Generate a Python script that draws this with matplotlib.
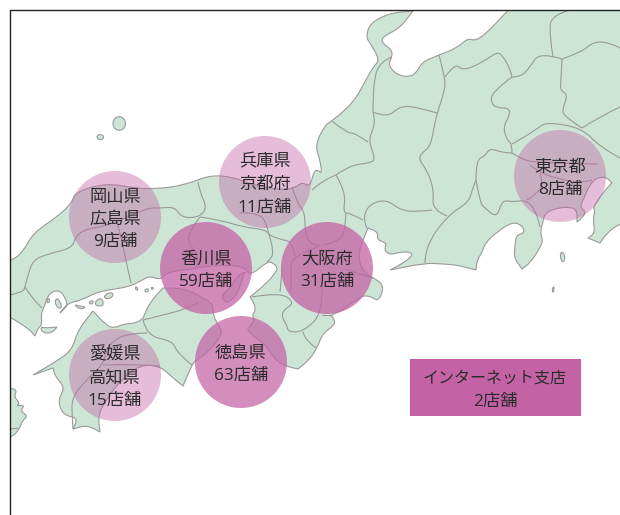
import matplotlib
matplotlib.use('Agg')
import matplotlib.pyplot as plt
from matplotlib.patches import Circle, Rectangle, PathPatch
from matplotlib.path import Path

plt.rcParams['font.family'] = ['Open Sans', 'Noto Sans CJK JP', 'DejaVu Sans']

# store groups
storeLabels = ['岡山県\n広島県\n9店舗', '香川県\n59店舗', '兵庫県\n京都府\n11店舗', '大阪府\n31店舗',
               '東京都\n8店舗', '愛媛県\n高知県\n15店舗', '徳島県\n63店舗']
storeX = [115, 206, 265, 327, 560, 115, 241]
storeY = [217, 268, 182, 268, 176, 375, 362]
storeAlpha = [0.42, 0.75, 0.42, 0.75, 0.42, 0.42, 0.72]
onlineName = 'インターネット支店'
onlineCount = '2店舗'

# map outlines (a point given twice stays a sharp cape)
honshu = [(-20, 262), (10, 262), (23, 252), (33, 233), (57, 217), (72, 203), (75, 192), (107, 183), (133, 188),
          (157, 189), (185, 185), (210, 175), (233, 177), (253, 185), (280, 190), (295, 188), (302, 182), (310, 187),
          (314, 171), (318, 170), (322, 174), (320, 160), (315, 145), (325, 125), (332, 121), (353, 103), (365, 82),
          (373, 67), (380, 60), (370, 43), (366, 37), (370, 23), (390, 13), (413, 11), (413, 11), (400, 28), (382, 37),
          (382, 43), (392, 50), (392, 57), (388, 65), (397, 75), (410, 77), (417, 72), (422, 62), (439, 55), (439, 55),
          (457, 48), (468, 38), (475, 41), (487, 33), (508, 10), (530, -10), (640, -10), (640, 223), (620, 223),
          (607, 233), (600, 243), (600, 243), (588, 238), (588, 238), (595, 233), (593, 220), (595, 210), (593, 207),
          (605, 190), (612, 183), (612, 183), (605, 176), (592, 180), (583, 200), (580, 207), (586, 212), (582, 218),
          (577, 222), (577, 222), (577, 210), (570, 207), (557, 208), (545, 213), (543, 222), (540, 232), (543, 240),
          (540, 248), (530, 263), (522, 269), (522, 269), (514, 258), (515, 247), (516, 235), (525, 233), (522, 225),
          (512, 222), (497, 232), (485, 243), (482, 253), (477, 260), (476, 270), (476, 270), (457, 265), (443, 264),
          (425, 263), (390, 270), (390, 270), (405, 262), (413, 255), (410, 252), (400, 252), (390, 255), (384, 250),
          (387, 243), (377, 240), (378, 232), (368, 228), (368, 228), (363, 240), (358, 255), (362, 270), (373, 278),
          (383, 284), (382, 295), (377, 300), (377, 300), (367, 295), (358, 298), (340, 312), (330, 315), (334, 318),
          (335, 325), (323, 333), (317, 348), (310, 359), (298, 369), (298, 369), (285, 366), (273, 358), (268, 347),
          (248, 332), (248, 328), (255, 320), (252, 315), (255, 312), (255, 305), (250, 297), (250, 297), (267, 283),
          (275, 273), (278, 268), (272, 262), (267, 262), (250, 276), (244, 266), (215, 265), (185, 270), (168, 272),
          (160, 280), (150, 276), (142, 280), (133, 285), (122, 288), (108, 290), (95, 293), (82, 300), (68, 303),
          (60, 313), (60, 313), (68, 305), (65, 298), (61, 291), (53, 291), (47, 297), (44, 308), (41, 313), (42, 325),
          (38, 328), (35, 336), (35, 336), (30, 330), (18, 322), (10, 317), (-20, 317)]
shikoku = [(33, 375), (33, 375), (57, 361), (72, 350), (78, 330), (93, 311), (93, 311), (107, 326), (115, 328),
           (123, 324), (137, 323), (143, 318), (143, 318), (150, 302), (163, 288), (163, 288), (175, 288), (187, 290),
           (200, 296), (213, 304), (213, 312), (215, 320), (222, 330), (220, 338), (207, 353), (195, 361), (192, 365),
           (183, 386), (183, 386), (173, 378), (160, 366), (140, 365), (123, 378), (107, 398), (98, 415), (100, 432),
           (100, 432), (87, 425), (73, 429), (73, 429), (78, 418), (63, 415), (58, 401), (63, 391), (63, 385),
           (55, 376), (53, 368), (53, 368)]
kyushu = [(-20, 388), (10, 388), (17, 390), (14, 397), (20, 403), (16, 406), (25, 405), (20, 411), (28, 416),
          (22, 421), (20, 428), (12, 438), (-20, 445)]
awaji = [(245, 272), (245, 272), (242, 280), (237, 295), (228, 303), (223, 300), (222, 295), (230, 288), (238, 275)]
oki = [(113, 120), (118, 116), (124, 118), (126, 124), (124, 129), (118, 131), (113, 127)]
okiSmall = [(97, 136), (100, 134), (104, 136), (103, 139), (100, 140), (97, 138)]
oshima = [(560, 253), (563, 252), (565, 257), (564, 262), (561, 261)]
kozu = [(552, 289), (554, 286), (554, 290), (553, 293)]
seto1 = [(47, 300), (49, 298), (50, 302), (47, 303)]
seto2 = [(55, 300), (58, 298), (62, 306), (60, 309), (56, 306)]
seto3 = [(75, 305), (75, 305), (85, 307), (85, 307), (83, 309), (78, 308)]
seto4 = [(88, 302), (94, 300), (92, 305)]
seto5 = [(96, 300), (102, 298), (104, 306), (95, 306)]
seto6 = [(105, 295), (111, 292), (114, 295), (109, 299), (104, 298)]
seto7 = [(135, 287), (137, 287), (138, 290), (136, 290)]
seto8 = [(145, 289), (149, 289), (148, 292), (145, 292)]
seto9 = [(151, 287), (154, 288), (152, 290)]
suo = [(40, 327), (47, 328), (57, 327), (57, 327), (52, 333), (43, 333)]
landAreas = [honshu, shikoku, kyushu, awaji, oki, okiSmall, oshima, kozu, seto1, seto2, seto3, seto4, seto5, seto6,
             seto7, seto8, seto9, suo]

borders = [
    [(392, 57), (381, 61), (373, 80), (373, 112)],
    [(373, 112), (387, 118), (400, 106), (417, 107), (437, 113)],
    [(439, 55), (445, 77), (445, 90), (437, 113), (433, 133), (430, 147), (417, 157), (427, 170), (434, 190),
     (432, 210), (447, 216)],
    [(445, 77), (455, 63), (463, 71), (483, 62), (497, 52), (502, 55), (510, 68), (512, 77)],
    [(512, 77), (492, 92), (491, 103), (497, 108), (509, 108), (510, 115), (503, 127), (507, 140), (512, 144),
     (512, 153)],
    [(512, 77), (521, 77), (530, 67), (540, 52), (562, 59)],
    [(562, 59), (561, 80), (560, 90), (568, 95), (562, 110), (565, 117), (582, 128)],
    [(562, 59), (582, 52), (593, 42), (608, 42), (620, 48)],
    [(553, 57), (549, 32), (552, 15), (570, 10)],
    [(512, 144), (523, 138), (538, 128), (547, 122), (582, 128), (600, 147), (620, 158)],
    [(582, 128), (597, 118), (620, 107)],
    [(512, 153), (503, 153), (490, 148), (485, 156), (476, 160), (476, 180)],
    [(476, 180), (472, 190), (469, 202), (447, 216), (425, 247), (425, 263)],
    [(476, 180), (480, 203), (485, 208), (497, 218), (502, 200), (513, 202), (527, 200), (537, 213), (540, 227)],
    [(512, 153), (523, 160), (540, 163), (598, 164)],
    [(530, 165), (540, 173), (563, 180), (583, 183), (592, 180)],
    [(527, 200), (538, 193), (543, 183), (540, 173)],
    [(432, 210), (417, 212), (400, 210), (386, 199), (368, 205), (363, 220), (367, 228)],
    [(373, 112), (376, 123), (368, 140), (375, 157), (372, 163), (350, 165), (336, 175)],
    [(332, 121), (347, 133), (355, 133), (368, 142)],
    [(336, 175), (346, 192), (343, 213), (350, 213), (363, 220)],
    [(336, 175), (323, 180), (312, 190)],
    [(346, 213), (345, 233), (337, 242), (323, 245)],
    [(292, 187), (297, 203), (305, 212), (305, 235), (312, 245), (323, 245), (295, 256), (290, 267), (292, 283),
     (290, 292)],
    [(198, 182), (200, 193), (207, 207), (200, 217), (182, 218), (175, 207), (160, 208), (147, 208), (117, 222),
     (100, 227), (83, 230), (75, 238), (72, 248), (48, 254), (33, 260), (28, 275), (25, 287), (23, 292), (10, 295)],
    [(25, 287), (33, 300), (42, 308)],
    [(117, 222), (122, 240), (125, 257), (131, 283)],
    [(200, 217), (190, 230), (188, 243), (200, 257), (195, 270)],
    [(200, 217), (220, 220), (243, 227), (267, 230), (270, 237), (273, 250), (272, 258), (267, 262)],
    [(240, 213), (260, 212), (268, 228), (268, 235), (283, 240), (292, 242), (295, 256)],
    [(347, 270), (373, 278)],
    [(322, 285), (323, 313), (303, 332), (288, 332), (287, 325), (282, 318), (283, 310), (295, 303), (280, 292),
     (252, 297)],
    [(282, 270), (280, 292)],
    [(303, 332), (305, 340), (316, 348)],
    [(322, 315), (332, 315)],
    [(143, 320), (163, 315), (183, 310), (198, 303)],
    [(143, 320), (147, 336), (173, 341), (177, 353), (192, 365)],
    [(147, 333), (133, 333), (117, 338), (107, 348), (103, 365), (85, 381), (72, 398), (72, 415), (73, 429)],
    [(103, 365), (140, 364), (160, 366)],
    [(-20, 430), (10, 430), (18, 428)],
]


def smoothPath(points, closed):
    # quadratic curves through the midpoints, the traced points act as control points
    if closed:
        start = ((points[-1][0] + points[0][0]) / 2, (points[-1][1] + points[0][1]) / 2)
        vertices = [start]
        codes = [Path.MOVETO]
        pts = points + [points[0]]
        for i in range(len(points)):
            mid = ((pts[i][0] + pts[i + 1][0]) / 2, (pts[i][1] + pts[i + 1][1]) / 2)
            vertices += [pts[i], mid]
            codes += [Path.CURVE3, Path.CURVE3]
        return Path(vertices, codes)
    vertices = [points[0]]
    codes = [Path.MOVETO]
    for i in range(1, len(points) - 1):
        mid = ((points[i][0] + points[i + 1][0]) / 2, (points[i][1] + points[i + 1][1]) / 2)
        if i == len(points) - 2:
            mid = points[i + 1]
        vertices += [points[i], mid]
        codes += [Path.CURVE3, Path.CURVE3]
    if len(points) == 2:
        vertices.append(points[1])
        codes.append(Path.LINETO)
    return Path(vertices, codes)


fig = plt.figure(figsize=(6.2, 5.15), dpi=100)
ax = fig.add_axes([0, 0, 1, 1])
ax.set_xlim(0, 620)
ax.set_ylim(515, 0)
ax.axis('off')

mapClip = Rectangle((10, 10), 620, 515, transform=ax.transData)

for area in landAreas:
    patch = PathPatch(smoothPath(area, True), facecolor='#cce5d5', edgecolor='#9a9a9a', linewidth=0.8)
    ax.add_patch(patch)
    patch.set_clip_path(mapClip)

for line in borders:
    patch = PathPatch(smoothPath(line, False), facecolor='none', edgecolor='#9a9a9a', linewidth=0.8)
    ax.add_patch(patch)
    patch.set_clip_path(mapClip)

for i in range(len(storeLabels)):
    ax.add_patch(Circle((storeX[i], storeY[i]), 46, facecolor='#c462a6', edgecolor='none', alpha=storeAlpha[i]))
    ax.text(storeX[i], storeY[i] + 3, storeLabels[i], ha='center', va='center', fontsize=12.4, color='#2b2b2b',
            linespacing=1.54)

ax.add_patch(Rectangle((410, 359), 171, 57, facecolor='#c462a6', edgecolor='none'))
ax.text(495, 379, onlineName, ha='center', va='center', fontsize=11.5, color='#2b2b2b')
ax.text(495.5, 402, onlineCount, ha='center', va='center', fontsize=12.4, color='#2b2b2b')

# only the top and left sides of the frame are drawn
ax.plot([10, 10, 620], [515, 10, 10], color='#222222', linewidth=1, clip_on=False)

fig.savefig('out.png', dpi=100)
